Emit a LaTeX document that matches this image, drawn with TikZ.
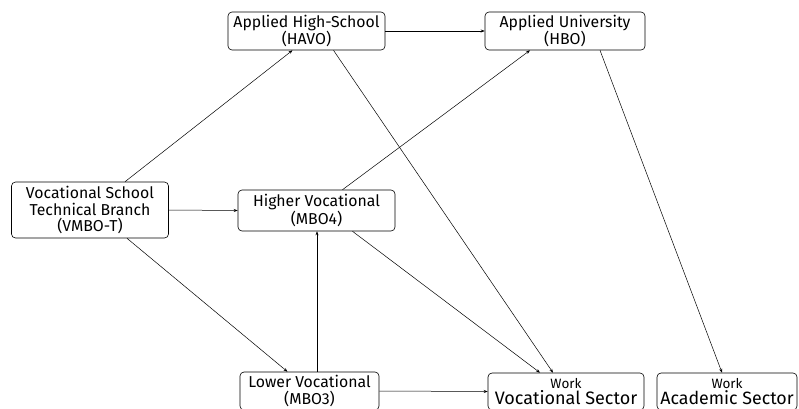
\documentclass[tikz,border=0pt]{standalone}
\usepackage{fontspec}
\setmainfont{Fira Sans}
\usetikzlibrary{arrows.meta,calc}
\begin{document}
\begin{tikzpicture}[x=1pt,y=-1pt,
  box/.style={draw,rounded corners=4pt,line width=0.6pt,inner sep=0pt,align=center,
    font=\fontsize{15.8}{16.5}\selectfont},
  work/.style={box,font=\fontsize{13.5}{16.5}\selectfont},
  conn/.style={-{Stealth[length=4pt,width=3pt]},line width=0.5pt}]
\useasboundingbox (0,0) rectangle (799,408);
\node[box,minimum width=157pt,minimum height=56pt] (vmbo) at (90,210) {Vocational School\\Technical Branch\\(VMBO-T)};
\node[box,minimum width=157pt,minimum height=38pt] (havo) at (306.5,31) {Applied High-School\\(HAVO)};
\node[box,minimum width=160pt,minimum height=38pt] (hbo) at (565,31) {Applied University\\(HBO)};
\node[box,minimum width=157pt,minimum height=41pt] (mbo4) at (316.5,210.5) {Higher Vocational\\(MBO4)};
\node[box,minimum width=139pt,minimum height=38pt] (mbo3) at (309.5,391) {Lower Vocational\\(MBO3)};
\node[work,minimum width=156pt,minimum height=37pt] (voc) at (566,391.5) {Work\\{\fontsize{18}{17}\selectfont Vocational Sector}};
\node[work,minimum width=140pt,minimum height=37pt] (acad) at (727,391.5) {Work\\{\fontsize{17.8}{17}\selectfont Academic Sector}};
\draw[conn] ([xshift=35pt]vmbo.north) -- ([xshift=-14pt]havo.south);
\draw[conn] (vmbo.east) -- (mbo4.west);
\draw[conn] ([xshift=37pt]vmbo.south) -- ([xshift=-22pt]mbo3.north);
\draw[conn] (havo.east) -- (hbo.west);
\draw[conn] ([xshift=27pt]havo.south) -- ([xshift=-13pt]voc.north);
\draw[conn] ([xshift=26pt]mbo4.north) -- ([xshift=-35pt]hbo.south);
\draw[conn] ([xshift=36pt]mbo4.south) -- ([xshift=-26pt]voc.north);
\draw[conn] ([xshift=7.5pt]mbo3.north) -- ([xshift=0.5pt]mbo4.south);
\draw[conn] (mbo3.east) -- (voc.west);
\draw[conn] ([xshift=35pt]hbo.south) -- ([xshift=-5pt]acad.north);
\end{tikzpicture}
\end{document}
